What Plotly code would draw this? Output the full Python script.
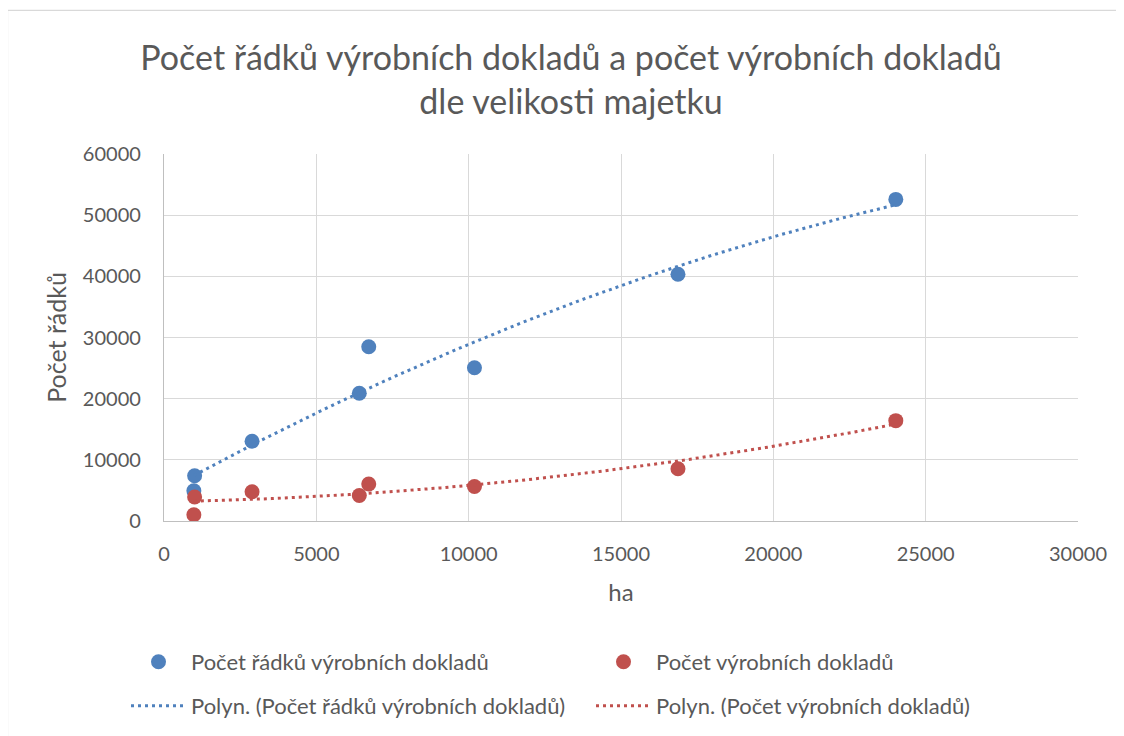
import numpy as np
import plotly.graph_objects as go

# data
ha = [980, 1005, 2890, 6410, 6720, 10190, 16870, 24020]
pocet_radku = [4940, 7390, 13050, 20880, 28480, 25060, 40340, 52580]
pocet_dokladu = [1030, 3920, 4780, 4180, 6040, 5640, 8530, 16410]

x_ticks = [0, 5000, 10000, 15000, 20000, 25000, 30000]
y_ticks = [0, 10000, 20000, 30000, 40000, 50000, 60000]

BLUE = "#4F81BD"
RED = "#C0504D"
TEXT = "#595959"
GRID = "#d9d9d9"
FONT = "Lato, Carlito, Calibri, sans-serif"

# the page body adds an 8px margin, so layout is planned in screen pixels minus that
OFF = 8
W, H = 1124, 736
PLOT_L, PLOT_R, PLOT_T, PLOT_B = 164, 1078, 154, 521
L, T = PLOT_L - OFF, PLOT_T - OFF
R = W - (PLOT_R - OFF)
B = H - (PLOT_B - OFF)


def paper_x(px):
    return (px - PLOT_L) / (PLOT_R - PLOT_L)


def paper_y(py):
    return (PLOT_B - py) / (PLOT_B - PLOT_T)


def poly_trend(x, y, deg=2):
    coef = np.polyfit(x, y, deg)
    xs = np.linspace(min(x), max(x), 200)
    return xs, np.polyval(coef, xs)


fig = go.Figure()

fig.add_trace(go.Scatter(
    x=ha, y=pocet_radku, mode="markers", name="Počet řádků výrobních dokladů",
    marker=dict(color=BLUE, size=15, line=dict(width=0)), legend="legend",
))
fig.add_trace(go.Scatter(
    x=ha, y=pocet_dokladu, mode="markers", name="Počet výrobních dokladů",
    marker=dict(color=RED, size=15, line=dict(width=0)), legend="legend",
))

tx, ty = poly_trend(ha, pocet_radku)
fig.add_trace(go.Scatter(
    x=tx, y=ty, mode="lines", name="Polyn. (Počet řádků výrobních dokladů)",
    line=dict(color=BLUE, width=3, dash="3px,4px"), legend="legend2",
))
tx, ty = poly_trend(ha, pocet_dokladu)
fig.add_trace(go.Scatter(
    x=tx, y=ty, mode="lines", name="Polyn. (Počet výrobních dokladů)",
    line=dict(color=RED, width=3, dash="3px,4px"), legend="legend2",
))

legend_common = dict(
    orientation="h", xanchor="left", yanchor="middle",
    x=paper_x(126), font=dict(family=FONT, size=22, color=TEXT),
    entrywidth=395, entrywidthmode="pixels", itemwidth=55,
    bgcolor="rgba(0,0,0,0)",
)

fig.update_layout(
    width=W, height=H,
    margin=dict(l=L, r=R, t=T, b=B),
    paper_bgcolor="white", plot_bgcolor="white",
    font=dict(family=FONT, color=TEXT),
    title=dict(
        text="Počet řádků výrobních dokladů a počet výrobních dokladů<br>dle velikosti majetku",
        x=(571 - OFF) / W, xanchor="center", xref="container",
        y=1 - (70 - OFF) / H, yanchor="middle", yref="container",
        font=dict(family=FONT, size=34, color=TEXT),
    ),
    legend=dict(legend_common, y=paper_y(662)),
    legend2=dict(legend_common, y=paper_y(706)),
    shapes=[dict(
        type="rect", xref="paper", yref="paper",
        x0=paper_x(7.5), x1=paper_x(1140), y0=paper_y(760), y1=paper_y(10.3),
        line=dict(color=GRID, width=1.3), fillcolor="rgba(0,0,0,0)", layer="below",
    )],
)

fig.update_xaxes(
    range=[0, 30000], tickvals=x_ticks, tickformat="d",
    showgrid=True, gridcolor=GRID, gridwidth=1.3,
    zeroline=False, showline=True, linecolor="#bfbfbf", linewidth=1.3,
    tickfont=dict(family=FONT, size=20, color=TEXT), ticklabelstandoff=15,
    title=dict(text="ha", font=dict(family=FONT, size=24, color=TEXT), standoff=20),
)
fig.update_yaxes(
    range=[0, 60000], tickvals=y_ticks, tickformat="d",
    showgrid=True, gridcolor=GRID, gridwidth=1.3,
    zeroline=False, showline=True, linecolor="#bfbfbf", linewidth=1.3,
    tickfont=dict(family=FONT, size=20, color=TEXT), ticklabelstandoff=18,
    title=dict(text="Počet řádků", font=dict(family=FONT, size=25, color=TEXT), standoff=9),
)

fig.write_html("out.html")
